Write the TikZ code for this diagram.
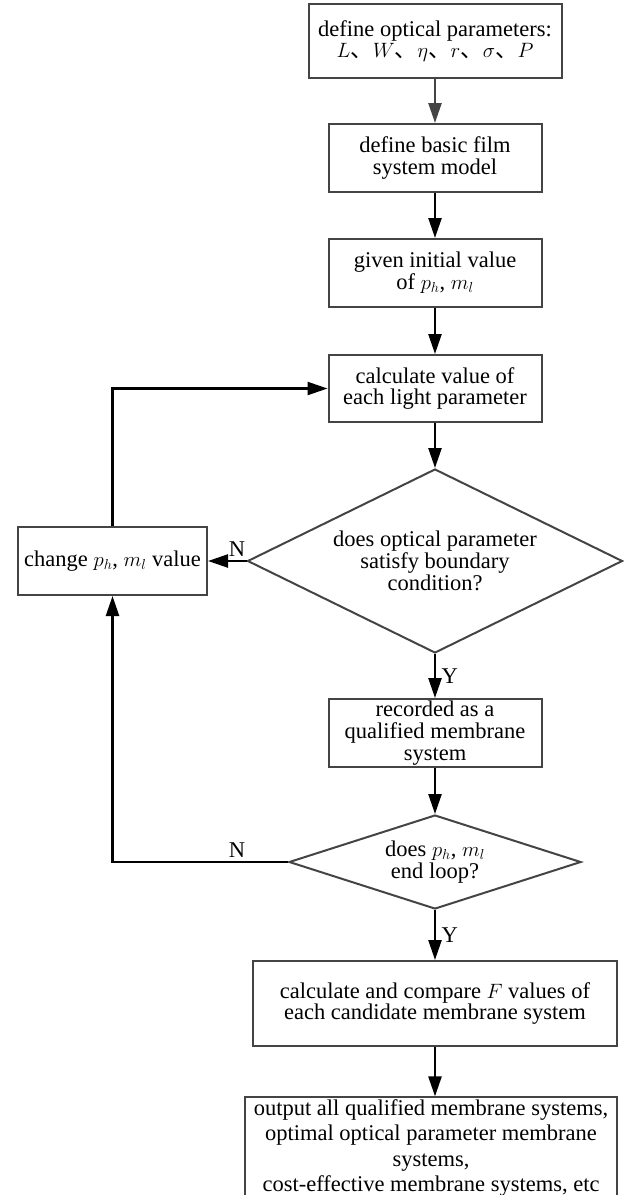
\documentclass[tikz,border=0pt]{standalone}
\usepackage{fontspec}
\setmainfont{Liberation Serif}
\newfontfamily\cjkfont{Noto Sans CJK SC}
\newcommand{\dunhao}{{\cjkfont 、}}
\usepackage{tikz}
\usetikzlibrary{arrows.meta}
\usetikzlibrary{shapes.geometric}
\definecolor{boxgray}{RGB}{68,68,68}
\tikzset{
  stepbox/.style={draw=boxgray, line width=2pt, align=center, inner sep=2pt},
  choice/.style={diamond, draw=boxgray, line width=2pt, align=center, inner sep=0pt},
  arr/.style={line width=2.4pt, -{Triangle[length=20pt,width=13pt]}}
}

\begin{document}
\begin{tikzpicture}[x=1pt, y=-1pt, font=\fontsize{22.5}{21.7}\selectfont]
    \useasboundingbox (0,0) rectangle (624,1195);
    \node[stepbox, minimum width=253pt, minimum height=74pt] (params) at (435,41) {define optical parameters:\\ $L$\dunhao$W$\dunhao$\eta$\dunhao$r$\dunhao$\sigma$\dunhao$P$};
    \node[stepbox, minimum width=213pt, minimum height=68pt] (model) at (435,158) {define basic film\\ system model};
    \node[stepbox, minimum width=213pt, minimum height=68pt] (init) at (435,273) {given initial value\\ of $p_h$, $m_l$};
    \node[stepbox, minimum width=213pt, minimum height=67pt] (calc) at (435,388.5) {calculate value of\\ each light parameter};
    \node[choice, aspect=2, minimum width=375pt, minimum height=184pt] (bound) at (435,561) {does optical parameter\\ satisfy boundary\\ condition?};
    \node[stepbox, minimum width=189pt, minimum height=68pt] (change) at (112.5,561) {change $p_h$, $m_l$ value};
    \node[stepbox, minimum width=213pt, minimum height=68pt] (record) at (435,733) {recorded as a\\ qualified membrane\\ system};
    \node[choice, aspect=3, minimum width=292pt, minimum height=94pt] (loop) at (435,862) {does $p_h$, $m_l$\\ end loop?};
    \node[stepbox, minimum width=364pt, minimum height=85pt] (compare) at (435,1003.5) {calculate and compare $F$ values of\\ each candidate membrane system};
    \node[stepbox, minimum width=372pt, minimum height=98pt, font=\fontsize{22.5}{25.5}\selectfont] (output) at (431,1148) {output all qualified membrane systems,\\ optimal optical parameter membrane\\ systems,\\ cost-effective membrane systems, etc};
    \draw[arr, draw=boxgray] (params) -- (model);
    \draw[arr] (model) -- (init);
    \draw[arr] (init) -- (calc);
    \draw[arr] (calc) -- (bound);
    \draw[arr] (bound) -- node[pos=0.25, above] (nobound) {N} (change);
    \draw[arr] (change.north) |- (calc.west);
    \draw[arr] (bound) -- node[right, xshift=2pt] (yesbound) {Y} (record);
    \draw[arr] (record) -- (loop);
    \draw[arr] (loop.west) -| node[pos=0.145, above] (noloop) {N} (change.south);
    \draw[arr] (loop) -- node[right, xshift=2pt] (yesloop) {Y} (compare);
    \draw[arr] (compare.south) -- (compare.south |- output.north);
  \end{tikzpicture}
\end{document}
